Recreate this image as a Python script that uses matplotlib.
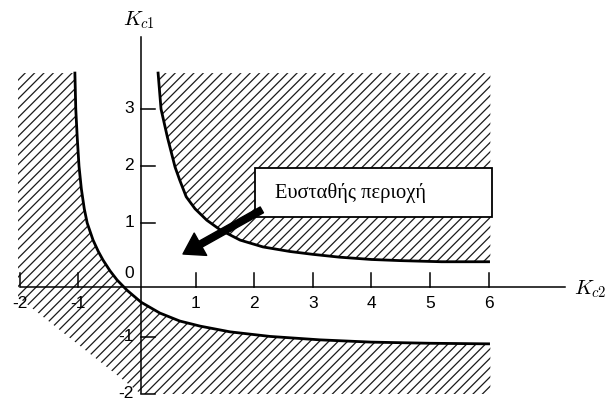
import numpy as np
import matplotlib
matplotlib.use("Agg")
import matplotlib.pyplot as plt
from matplotlib.patches import Polygon, Rectangle
from matplotlib.collections import LineCollection

# stability boundary curves in the (Kc2, Kc1) plane
upper_kc2 = [0.36, 0.41, 0.52, 0.65, 0.73, 0.84, 0.99, 1.19, 1.42, 1.76, 2.15, 2.61,
             3.0, 3.46, 4.0, 4.49, 5.2, 6.0]
upper_kc1 = [3.63, 3.0, 2.5, 1.98, 1.75, 1.46, 1.25, 1.05, 0.88, 0.70, 0.58, 0.50,
             0.45, 0.40, 0.36, 0.34, 0.32, 0.32]

lower_kc2 = [-1.06, -1.045, -1.02, -0.99, -0.95, -0.90, -0.85, -0.75, -0.66, -0.58,
             -0.46, -0.34, -0.17, 0.07, 0.39, 0.73, 1.08, 1.59, 2.27, 3.12, 4.0, 5.0, 6.0]
lower_kc1 = [3.63, 3.0, 2.5, 2.0, 1.6, 1.25, 1.0, 0.70, 0.50, 0.35,
             0.16, 0.0, -0.18, -0.39, -0.58, -0.72, -0.81, -0.91, -0.99, -1.05, -1.09, -1.11, -1.12]

xticks = [-2, -1, 1, 2, 3, 4, 5, 6]
yticks = [3, 2, 1, -1, -2]
ytick_labels = ["3", "2", "1", "-1", "-2"]
region_label = "Ευσταθής περιοχή"

# extent of the shaded areas
x_left, x_right = -2.03, 6.03
y_top, y_bottom = 3.63, -2.0

plt.rcParams["mathtext.fontset"] = "cm"

fig = plt.figure(figsize=(6.09, 4.05), dpi=100)
ax = fig.add_axes([0, 0, 1, 1])
ax.set_xlim(-2.338, 8.055)
ax.set_ylim(-2.193, 4.912)
ax.axis("off")


def hatch(poly_xy, slope, step):
    # diagonal hatching clipped to a polygon
    patch = Polygon(poly_xy, closed=True, fill=False, edgecolor="none")
    ax.add_patch(patch)
    segs = []
    for c in np.arange(-12, 12, step):
        y0, y1 = -2.5, 4.0
        segs.append([(c + y0 / slope, y0), (c + y1 / slope, y1)])
    lc = LineCollection(segs, colors="#1a1a1a", linewidths=0.9, zorder=1)
    lc.set_clip_path(patch)
    ax.add_collection(lc)


# unstable region above/right of the upper curve
upper_poly = list(zip(upper_kc2, upper_kc1)) + [(x_right, upper_kc1[-1]), (x_right, y_top)]
hatch(upper_poly, 58.6 / 57, 0.16)

# unstable region left of / below the lower curve
lower_poly = ([(x_left, y_top)] + list(zip(lower_kc2, lower_kc1)) +
              [(x_right, lower_kc1[-1]), (x_right, y_bottom), (0.07, y_bottom), (x_left, -0.30)])
hatch(lower_poly, 58.6 / 57, 0.16)

ax.plot(upper_kc2, upper_kc1, color="black", lw=2.0, zorder=3, solid_joinstyle="round")
ax.plot(lower_kc2, lower_kc1, color="black", lw=2.0, zorder=3, solid_joinstyle="round")

# axes through the origin
ax_x, ax_y = 0.07, -0.12
ax.plot([-1.98, 7.30], [ax_y, ax_y], color="black", lw=1.1, zorder=3)
ax.plot([ax_x, ax_x], [-1.98, 4.26], color="black", lw=1.1, zorder=3)

tick_font = dict(family="Liberation Sans", fontsize=12.5)
for t in xticks:
    ax.plot([t, t], [ax_y, 0.13], color="black", lw=1.1, zorder=3)
    ax.text(t, -0.42, str(t), ha="center", va="center", zorder=5, **tick_font)
for t, lab in zip(yticks, ytick_labels):
    ax.plot([ax_x, 0.31], [t, t], color="black", lw=1.1, zorder=3)
    ax.text(-0.05, t, lab, ha="right", va="center", zorder=5, **tick_font)
ax.text(-0.05, 0.12, "0", ha="right", va="center", zorder=5, **tick_font)

ax.text(0.04, 4.55, r"$K_{c1}$", ha="center", va="center", fontsize=15)
ax.text(7.73, -0.16, r"$K_{c2}$", ha="center", va="center", fontsize=15)

# label box with arrow into the stable region
ax.add_patch(Rectangle((2.01, 1.105), 4.05, 0.86, facecolor="white",
                       edgecolor="black", lw=1.3, zorder=4))
ax.text(2.355, 1.53, region_label, family="Liberation Serif", fontsize=14.8,
        ha="left", va="center", zorder=5)
ax.annotate("", xy=(0.785, 0.456), xytext=(2.13, 1.23),
            arrowprops=dict(arrowstyle="simple,head_length=0.9,head_width=1.15,tail_width=0.3",
                            mutation_scale=16, color="black", shrinkA=0, shrinkB=0),
            zorder=6)

fig.savefig("out.png", dpi=100)
